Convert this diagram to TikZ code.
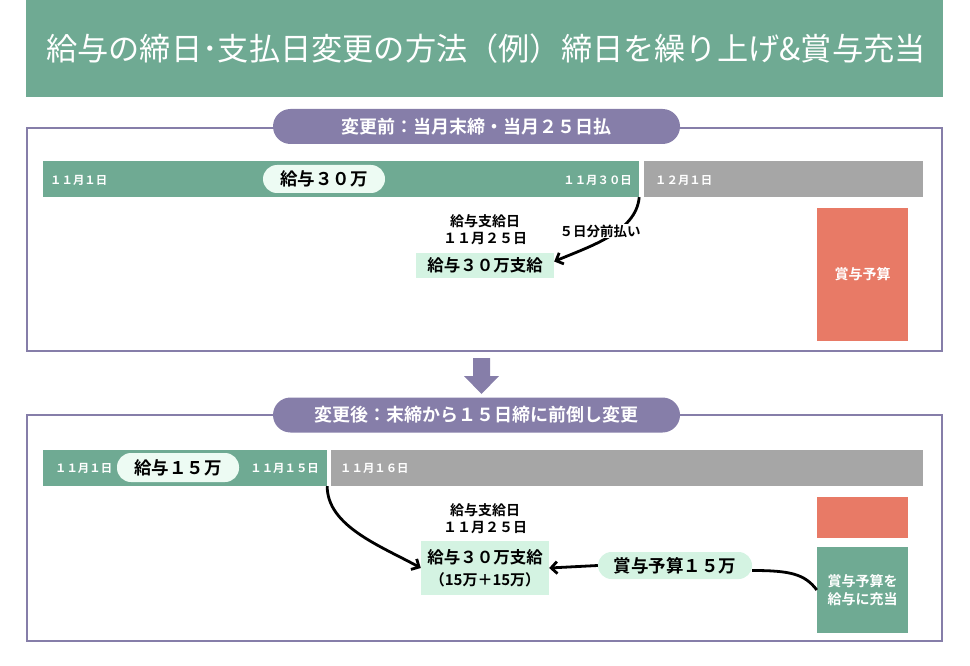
\documentclass[tikz,border=0pt]{standalone}
\usepackage{fontspec}
\setmainfont{Noto Sans CJK JP}[BoldFont={Noto Sans CJK JP Bold}]
\usetikzlibrary{arrows.meta}

\definecolor{sheetgreen}{RGB}{111,170,147}
\definecolor{sheetgrey}{RGB}{166,166,166}
\definecolor{sheetpurple}{RGB}{134,126,169}
\definecolor{sheetred}{RGB}{232,122,102}
\definecolor{sheetmint}{RGB}{212,243,226}
\definecolor{sheetpale}{RGB}{237,251,243}

\tikzset{
  banner/.style={fill=sheetgreen, text=white, inner sep=0pt,
    minimum width=917pt, minimum height=97pt,
    font=\fontsize{31.2}{34}\selectfont},
  frame/.style={draw=sheetpurple, line width=2.8pt, minimum width=915pt},
  secpill/.style={fill=sheetpurple, text=white, rounded corners=17.5pt,
    minimum width=407pt, minimum height=35pt, inner sep=0pt,
    font=\bfseries\fontsize{18}{20}\selectfont},
  greenbar/.style={fill=sheetgreen, minimum height=36pt, inner sep=0pt},
  greybar/.style={fill=sheetgrey, minimum height=36pt, inner sep=0pt},
  datelbl/.style={text=white, inner sep=0pt, font=\bfseries\fontsize{11.4}{12}\selectfont},
  barpill/.style={fill=sheetpale, rounded corners=14pt, minimum width=122pt,
    minimum height=28pt, inner sep=0pt, font=\bfseries\fontsize{17.5}{20}\selectfont},
  paydate/.style={align=center, inner sep=0pt, font=\bfseries\fontsize{14}{17}\selectfont},
  paybox/.style={fill=sheetmint, align=center, inner sep=0pt,
    font=\bfseries\fontsize{16.5}{22}\selectfont},
  bonusbox/.style={fill=sheetred, text=white, minimum width=91pt, inner sep=0pt,
    font=\bfseries\fontsize{14}{18}\selectfont},
  link/.style={line width=2.8pt, -{Straight Barb[length=6pt,width=12pt]}},
}

\begin{document}
\begin{tikzpicture}[x=1pt,y=-1pt]
  \useasboundingbox (0,0) rectangle (970,666);

  % Title
  \node[banner] (title) at (484.5,48.5) {\hspace{3pt}給与の締日･支払日変更の方法（例）締日を繰り上げ\&賞与充当};

  % Before the change
  \node[frame, minimum height=223pt] (frame1) at (484.5,239.5) {};
  \node[secpill] (sec1) at (476.5,126.5) {変更前：当月末締・当月２５日払};
  \node[greenbar, minimum width=596pt] (bar1) at (341,179) {};
  \node[greybar, minimum width=279pt] (grey1) at (783.5,179) {};
  \node[datelbl, anchor=west] (d1) at (50,180) {１１月１日};
  \node[datelbl, anchor=east] (d2) at (632,180) {１１月３０日};
  \node[datelbl, anchor=west] (d3) at (655,180) {１２月１日};
  \node[barpill] (pill1) at (324,179) {給与３０万};
  \node[paydate] (date1) at (485,229.5) {給与支給日\\１１月２５日};
  \node[paybox, minimum width=138pt, minimum height=25pt] (pay1) at (485,265.5) {給与３０万支給};
  \node[bonusbox, minimum height=133pt] (bonus1) at (862.5,274.5) {賞与予算};

  \draw[link] (bar1.south east) .. controls +(-3,35) and +(35,-15) .. ([yshift=4pt]pay1.east);
  \node[fill=white, inner sep=1pt, font=\bfseries\fontsize{13.5}{15}\selectfont] (early) at (600,231) {５日分前払い};

  % Down arrow
  \fill[sheetpurple] (473,358) -- (490,358) -- (490,376) -- (499,376) -- (481.5,394)
    -- (464,376) -- (473,376) -- cycle;

  % After the change
  \node[frame, minimum height=226pt] (frame2) at (484.5,528) {};
  \node[secpill] (sec2) at (476.5,415) {変更後：末締から１５日締に前倒し変更};
  \node[greenbar, minimum width=284pt] (bar2) at (185,468) {};
  \node[greybar, minimum width=592pt] (grey2) at (627,468) {};
  \node[datelbl, anchor=west] (d4) at (55,468) {１１月１日};
  \node[datelbl, anchor=east] (d5) at (319,468) {１１月１５日};
  \node[datelbl, anchor=west] (d6) at (340,468) {１１月１６日};
  \node[barpill, minimum height=29pt] (pill2) at (178,467.5) {給与１５万};
  \node[paydate] (date2) at (485,519) {給与支給日\\１１月２５日};
  \node[paybox, minimum width=128pt, minimum height=54pt] (pay2) at (485,568)
    {給与３０万支給\\\fontsize{15}{16}\selectfont（15万＋15万）};
  \node[bonusbox, minimum height=41pt] (bonus2) at (862.5,517.5) {};
  \node[bonusbox, fill=sheetgreen, minimum height=86pt, align=center] (alloc) at (862.5,590)
    {賞与予算を\\給与に充当};
  \node[barpill, fill=sheetmint, rounded corners=13.5pt, minimum width=154pt,
    minimum height=27pt] (bonus15) at (675,565.5) {賞与予算１５万};

  \draw[link] (bar2.south east) .. controls +(0,40) and +(-40,-22) .. (pay2.west);
  \draw[link] (bonus15.west) -- (pay2.east);
  \draw[line width=2.8pt] ([yshift=-5pt]bonus15.east) .. controls +(38,0) and +(-12,-16) .. (alloc.west);
\end{tikzpicture}
\end{document}
